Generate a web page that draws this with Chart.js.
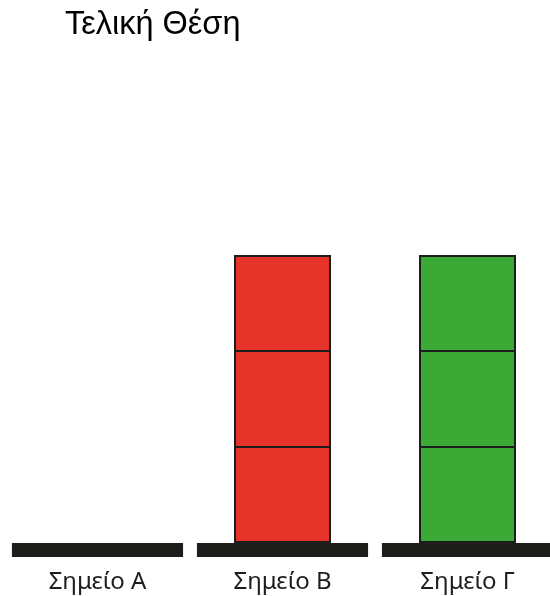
<!DOCTYPE html>
<html>
<head>
<meta charset="utf-8">
<script src="https://cdn.jsdelivr.net/npm/chart.js@4"></script>
<style>
    html, body { margin: 0; padding: 0; background: #fff; overflow: hidden; }
    #wrap { position: relative; width: 550px; height: 596px; overflow: hidden; }
    #title { position: absolute; left: 65px; top: 5px; font: 32.5px "Liberation Sans", Arial, sans-serif; color: #000; white-space: nowrap; }
    #holder { position: absolute; left: 0; top: 0; width: 560px; height: 596px; }
</style>
</head>
<body>
<div id="wrap">
    <div id="holder"><canvas id="chart"></canvas></div>
    <div id="title">Τελική Θέση</div>
</div>
<script>
const POINTS = ['Σημείο Α', 'Σημείο Β', 'Σημείο Γ'];
const BLOCK_COUNT = [0, 3, 3];
const BLOCK_COLORS = ['#e5332a', '#e5332a', '#3aa935'];
const PLATFORM_DEPTH = 14 / 96;
const LEVELS = [0, 1, 2];

function blockLevel(level) {
    return BLOCK_COUNT.map(n => (n > level ? [level, level + 1] : null));
}

const datasets = LEVELS.map(level => ({
    label: 'Κύβος ' + (level + 1),
    data: blockLevel(level),
    backgroundColor: BLOCK_COLORS,
    borderColor: '#1d1d1b',
    borderWidth: {
        left: 2,
        right: 2,
        top: level === LEVELS.length - 1 ? 2 : 1,
        bottom: level === 0 ? 2 : 1
    },
    borderSkipped: false,
    barPercentage: 97 / 185,
    categoryPercentage: 1,
    grouped: false
}));

datasets.push({
    label: 'Βάση',
    data: POINTS.map(() => [-PLATFORM_DEPTH, 0]),
    backgroundColor: '#1d1d1b',
    borderWidth: 0,
    barPercentage: 0.925,
    categoryPercentage: 1,
    grouped: false
});

new Chart(document.getElementById('chart'), {
    type: 'bar',
    data: { labels: POINTS, datasets },
    options: {
        responsive: true,
        maintainAspectRatio: false,
        animation: false,
        layout: { padding: { left: 5, right: 0, top: 63, bottom: 0 } },
        plugins: {
            legend: { display: false },
            tooltip: { enabled: false }
        },
        scales: {
            x: {
                grid: { display: false, drawTicks: false },
                border: { display: false },
                afterFit: scale => { scale.height = 39; },
                ticks: {
                    color: '#1d1d1b',
                    padding: 10,
                    font: { family: '"Noto Sans", sans-serif', size: 24, lineHeight: 1.25 }
                }
            },
            y: {
                display: false,
                min: -PLATFORM_DEPTH,
                max: 5
            }
        }
    }
});
</script>
</body>
</html>
